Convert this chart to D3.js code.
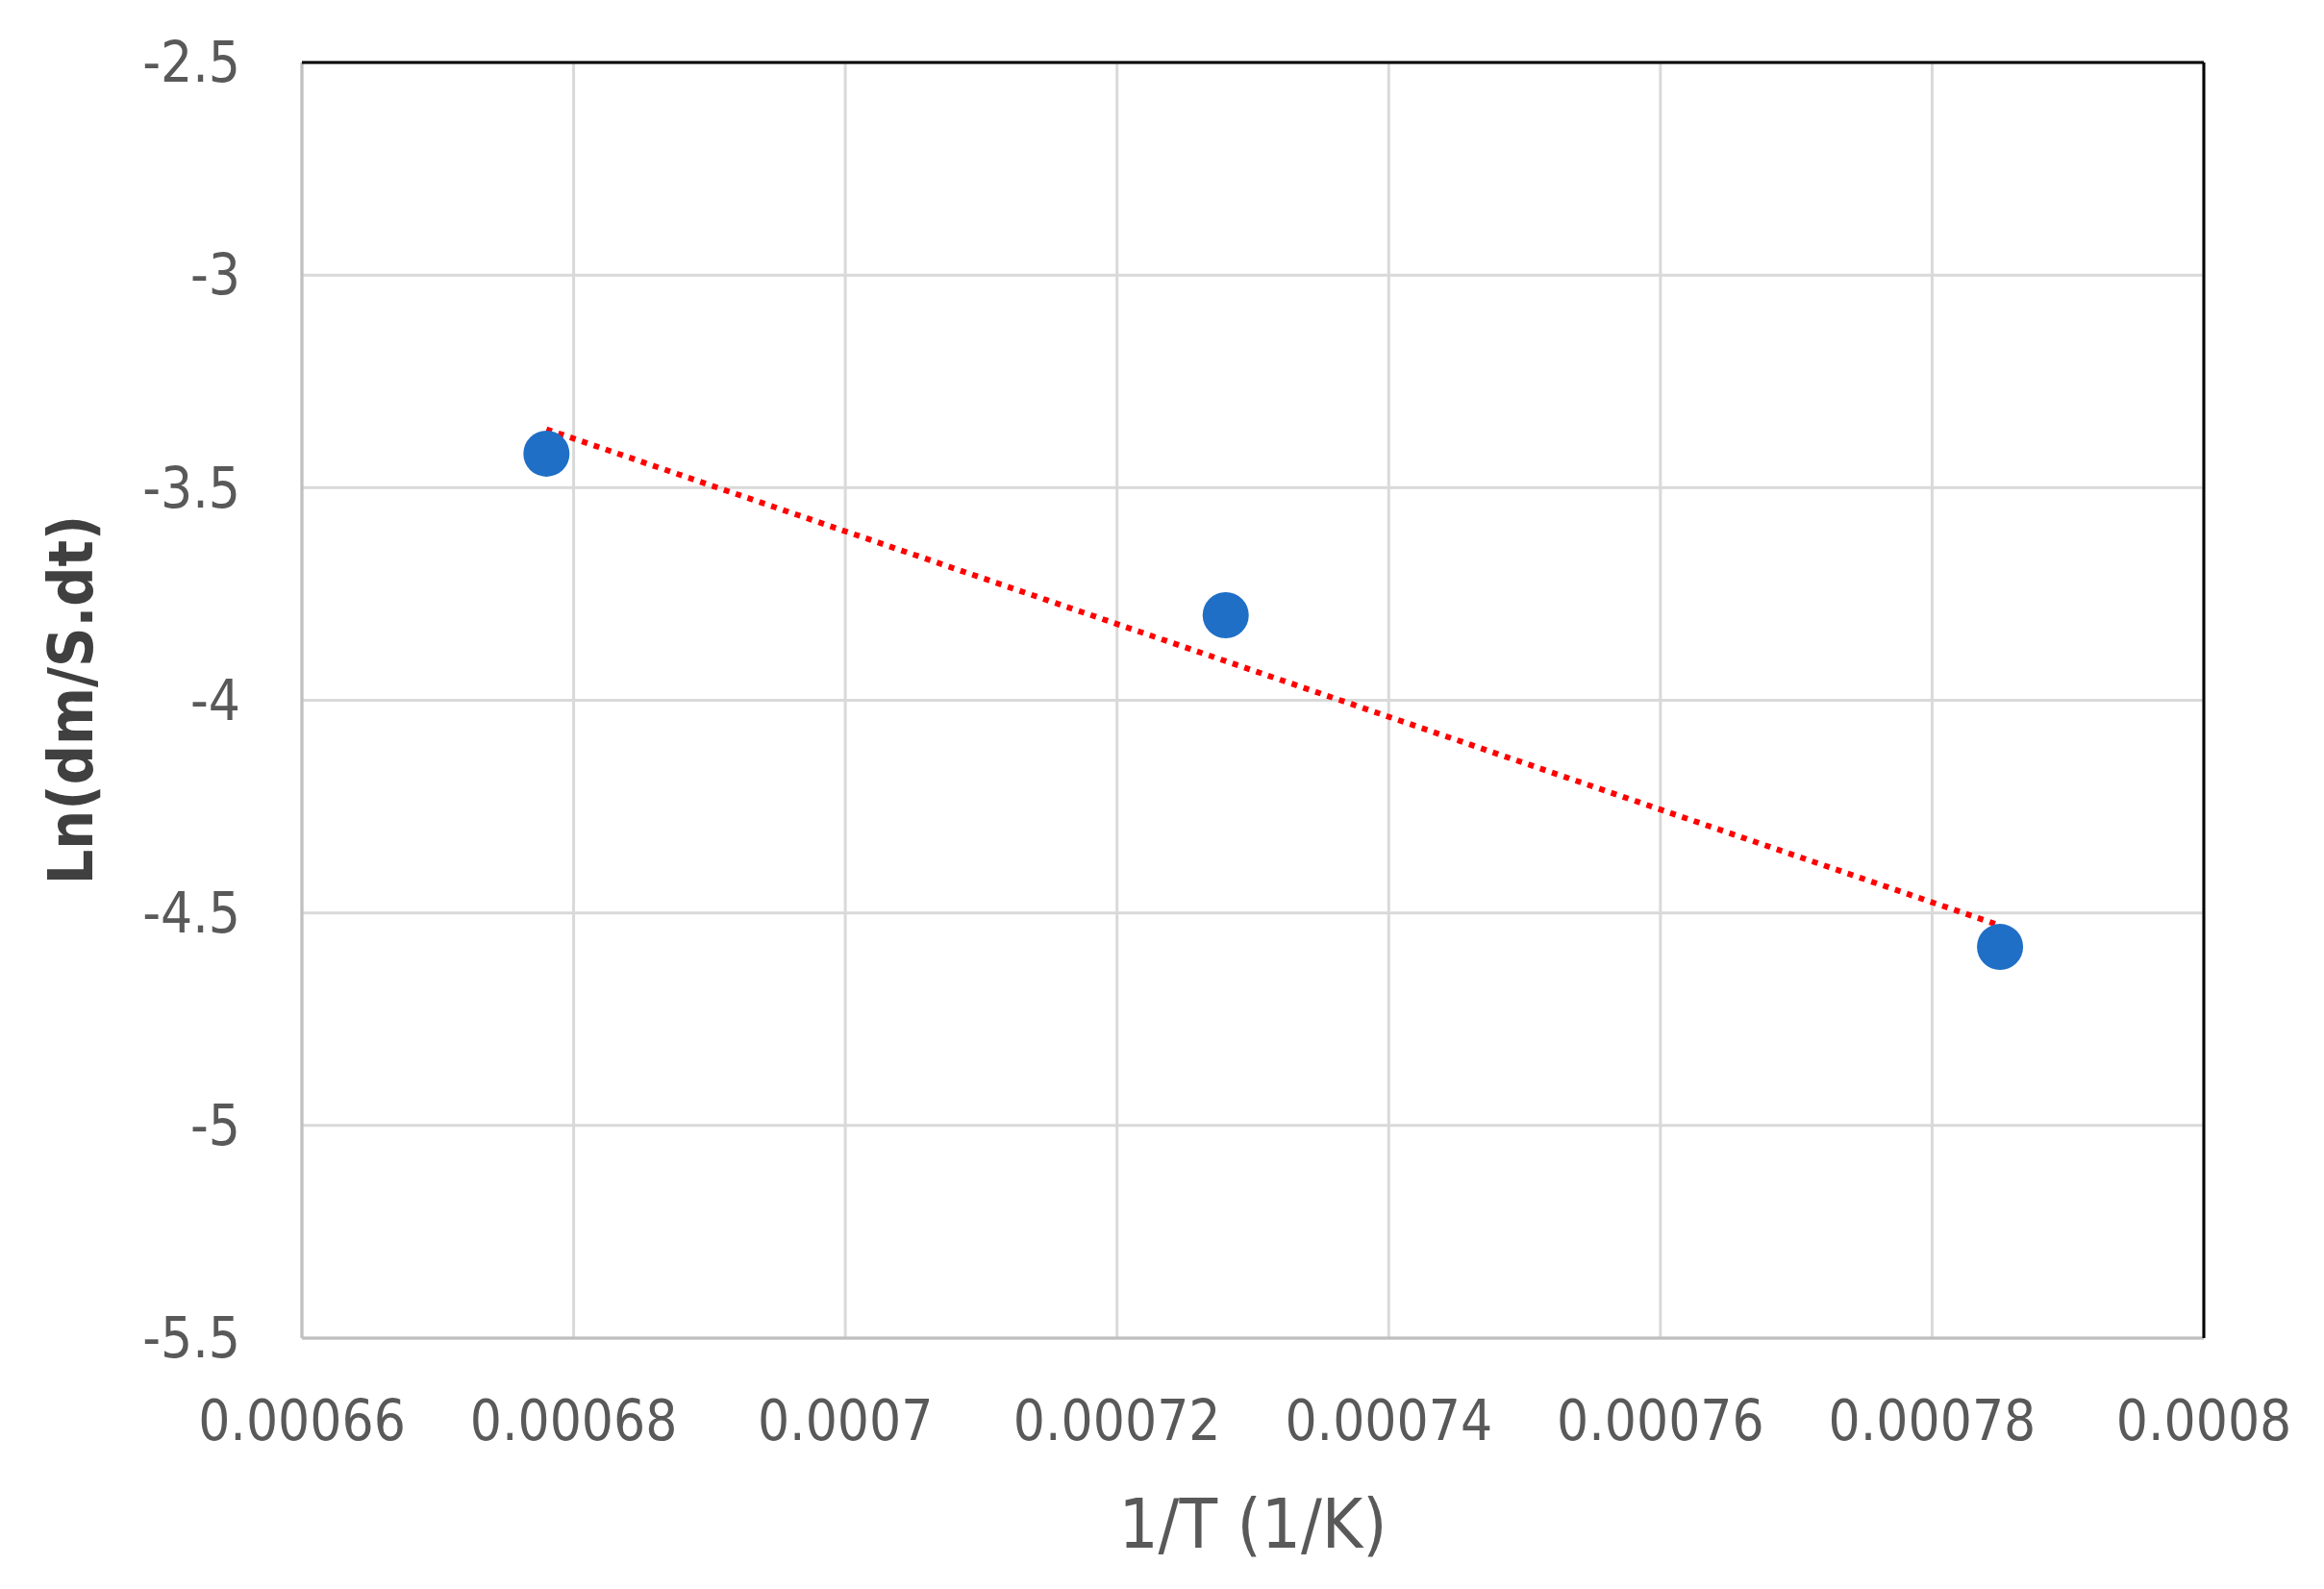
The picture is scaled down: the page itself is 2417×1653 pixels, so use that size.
<!DOCTYPE html>
<html><head><meta charset="utf-8">
<script src="https://cdn.jsdelivr.net/npm/d3@7"></script>
<style>body{margin:0;background:#fff}svg{display:block}</style>
</head><body>
<script>
// data
var invT = [0.000678, 0.000728, 0.000785];
var lnRate = [-3.42, -3.80, -4.58];
var xTicks = [0.00066, 0.00068, 0.0007, 0.00072, 0.00074, 0.00076, 0.00078, 0.0008];
var yTicks = [-2.5, -3, -3.5, -4, -4.5, -5, -5.5];

var W = 2417, H = 1653;
var m = {left: 314, right: 2292, top: 65, bottom: 1392};
var font = "'Liberation Sans Narrow','DejaVu Sans Condensed',Arial,sans-serif";

var svg = d3.select("body").append("svg").attr("width", W).attr("height", H);
var x = d3.scaleLinear().domain([0.00066, 0.0008]).range([m.left, m.right]);
var y = d3.scaleLinear().domain([-5.5, -2.5]).range([m.bottom, m.top]);

// grid
svg.append("g").selectAll("line").data(xTicks).join("line")
  .attr("x1", d => x(d)).attr("x2", d => x(d)).attr("y1", m.top).attr("y2", m.bottom)
  .attr("stroke", "#d9d9d9").attr("stroke-width", 3);
svg.append("g").selectAll("line").data(yTicks).join("line")
  .attr("x1", m.left).attr("x2", m.right).attr("y1", d => y(d)).attr("y2", d => y(d))
  .attr("stroke", "#d9d9d9").attr("stroke-width", 3);

// frame: left/bottom gray, top/right black
svg.append("line").attr("x1", m.left).attr("x2", m.left).attr("y1", m.top).attr("y2", m.bottom).attr("stroke", "#bfbfbf").attr("stroke-width", 3);
svg.append("line").attr("x1", m.left).attr("x2", m.right).attr("y1", m.bottom).attr("y2", m.bottom).attr("stroke", "#bfbfbf").attr("stroke-width", 3);
svg.append("line").attr("x1", m.left).attr("x2", m.right).attr("y1", m.top).attr("y2", m.top).attr("stroke", "#000").attr("stroke-width", 3);
svg.append("line").attr("x1", m.right).attr("x2", m.right).attr("y1", m.top).attr("y2", m.bottom).attr("stroke", "#000").attr("stroke-width", 3);

// tick labels
svg.append("g").selectAll("text").data(yTicks).join("text")
  .attr("x", 250).attr("y", d => y(d)).attr("dy", "0.35em").attr("text-anchor", "end")
  .attr("font-family", font).attr("font-size", 58).attr("fill", "#595959")
  .text(d => d);
svg.append("g").selectAll("text").data(xTicks).join("text")
  .attr("x", d => x(d)).attr("y", 1478).attr("dy", "0.35em").attr("text-anchor", "middle")
  .attr("font-family", font).attr("font-size", 58).attr("fill", "#595959")
  .text(d => d);

// axis titles
svg.append("text").attr("x", 1303).attr("y", 1585).attr("dy", "0.35em").attr("text-anchor", "middle")
  .attr("font-family", font).attr("font-size", 72).attr("fill", "#595959").text("1/T (1/K)");
svg.append("text").attr("transform", "translate(74,728) rotate(-90)").attr("dy", "0.35em")
  .attr("text-anchor", "middle").attr("font-family", font).attr("font-size", 64)
  .attr("font-weight", "bold").attr("fill", "#404040").text("Ln(dm/S.dt)");

// linear trendline (least squares on the points)
var mx = d3.mean(invT), my = d3.mean(lnRate);
var sxy = d3.sum(invT, (v, i) => (v - mx) * (lnRate[i] - my));
var sxx = d3.sum(invT, v => (v - mx) * (v - mx));
var slope = sxy / sxx, icpt = my - slope * mx;
var ext = d3.extent(invT);
svg.append("line")
  .attr("x1", x(ext[0])).attr("y1", y(icpt + slope * ext[0]))
  .attr("x2", x(ext[1])).attr("y2", y(icpt + slope * ext[1]))
  .attr("stroke", "#ff0000").attr("stroke-width", 6).attr("stroke-dasharray", "6,7");

// points
svg.append("g").selectAll("circle").data(invT).join("circle")
  .attr("cx", d => x(d)).attr("cy", (d, i) => y(lnRate[i])).attr("r", 24)
  .attr("fill", "#1f6fc6");
</script>
</body></html>
